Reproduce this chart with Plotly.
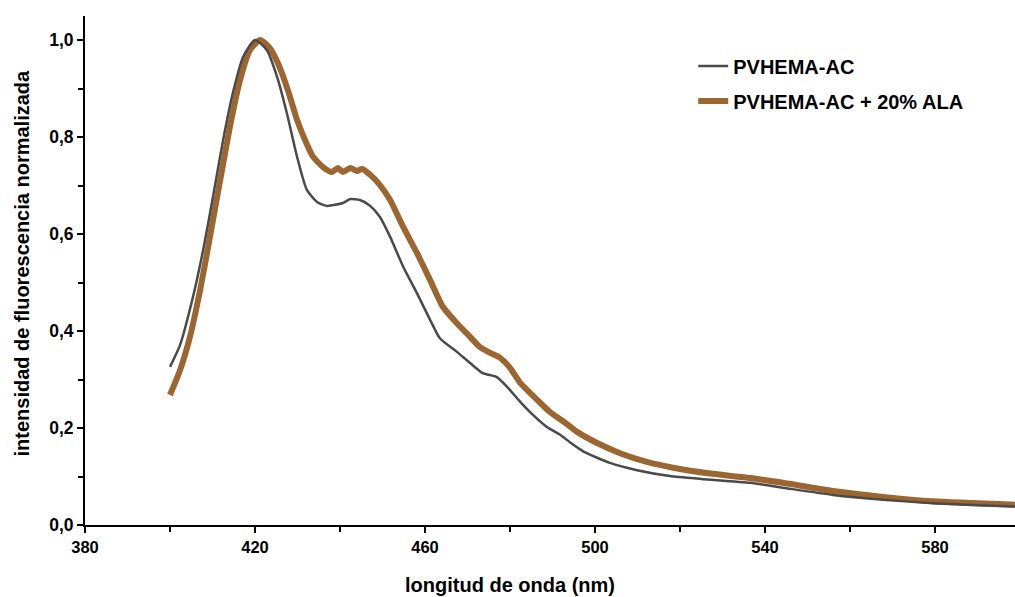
import plotly.graph_objects as go

# PVHEMA-AC (grey)
grey_nm = [400, 402.4, 405.4, 407.8, 410.1, 412.5, 414.8, 417.2, 420.0, 422.8, 425.2,
           427.5, 429.9, 432.2, 434.6, 436.9, 440.7, 442.4, 444.7, 447.1, 449.4, 451.8,
           454.9, 458.1, 461.2, 463.5, 467.5, 470.6, 473.6, 476.9, 479.3, 482.4, 485.4,
           488.7, 491.8, 494.5, 497.2, 503.5, 509.9, 517.6, 525.0, 536.5, 544.2, 556.0,
           567.8, 579.5, 598.8]
grey_val = [0.326, 0.372, 0.470, 0.567, 0.676, 0.794, 0.891, 0.965, 1.000, 0.979, 0.924,
            0.849, 0.759, 0.691, 0.666, 0.658, 0.664, 0.672, 0.670, 0.658, 0.635, 0.594,
            0.532, 0.478, 0.423, 0.385, 0.357, 0.334, 0.313, 0.305, 0.285, 0.254, 0.227,
            0.202, 0.186, 0.168, 0.152, 0.128, 0.113, 0.101, 0.095, 0.087, 0.077, 0.062,
            0.052, 0.045, 0.038]

# PVHEMA-AC + 20% ALA (brown)
ala_nm = [400, 402.4, 404.7, 407.1, 409.4, 411.8, 414.1, 416.5, 418.8, 421.2, 423.5,
          425.5, 427.8, 429.9, 432.2, 433.6, 436.0, 438.1, 439.5, 440.7, 442.4, 444.0,
          445.2, 447.1, 449.4, 451.8, 454.9, 458.1, 461.2, 464.2, 467.5, 470.6, 472.9,
          475.3, 477.6, 480.0, 482.4, 486.4, 489.4, 492.5, 495.8, 500.5, 505.9, 512.2,
          518.4, 527.1, 536.5, 544.2, 556.0, 567.8, 579.5, 598.8]
ala_val = [0.268, 0.320, 0.388, 0.485, 0.594, 0.711, 0.821, 0.918, 0.979, 1.000, 0.983,
           0.950, 0.895, 0.835, 0.785, 0.760, 0.738, 0.728, 0.736, 0.728, 0.736, 0.730,
           0.734, 0.722, 0.701, 0.670, 0.614, 0.561, 0.505, 0.450, 0.416, 0.388, 0.367,
           0.355, 0.345, 0.324, 0.293, 0.258, 0.233, 0.214, 0.192, 0.169, 0.148, 0.130,
           0.118, 0.106, 0.097, 0.087, 0.070, 0.058, 0.049, 0.042]

x_ticks = [380, 420, 460, 500, 540, 580]
y_ticks = [0.0, 0.2, 0.4, 0.6, 0.8, 1.0]

FONT = "Liberation Sans, Arial, sans-serif"
GREY = "#4a4a4a"
BROWN = "#9c6631"

fig = go.Figure()
fig.add_trace(go.Scatter(
    x=ala_nm, y=ala_val, mode="lines", name="PVHEMA-AC + 20% ALA",
    line=dict(color=BROWN, width=6, shape="spline", smoothing=0.6),
    legendrank=2, legendgroup="b"))
fig.add_trace(go.Scatter(
    x=grey_nm, y=grey_val, mode="lines", name="PVHEMA-AC",
    line=dict(color=GREY, width=2.5, shape="spline", smoothing=0.6),
    legendrank=1, legendgroup="a"))

fig.update_layout(
    width=1015, height=597,
    margin=dict(l=85, r=0, t=16, b=72),
    paper_bgcolor="white", plot_bgcolor="white",
    separators=",.",
    font=dict(family=FONT, color="black"),
    showlegend=True,
    legend=dict(x=0.654, y=0.94, xanchor="left", yanchor="top",
                bgcolor="rgba(0,0,0,0)", tracegroupgap=6,
                font=dict(family=FONT, size=20, weight="bold", color="black")),
    xaxis=dict(range=[380, 598.82], tickvals=x_ticks, ticks="outside", ticklen=6,
               tickwidth=2, tickcolor="black", showline=True, linecolor="black",
               linewidth=2, showgrid=False, zeroline=False,
               tickfont=dict(family=FONT, size=16.5, weight="bold"),
               minor=dict(dtick=20, tick0=380, ticks="outside", ticklen=5,
                          tickwidth=2, tickcolor="black", showgrid=False)),
    yaxis=dict(range=[0, 1.0495], tickvals=y_ticks, tickformat=".1f", ticks="outside",
               ticklen=6, tickwidth=2, tickcolor="black", showline=True,
               linecolor="black", linewidth=2, showgrid=False, zeroline=False,
               tickfont=dict(family=FONT, size=17.5, weight="bold"),
               minor=dict(dtick=0.1, tick0=0, ticks="outside", ticklen=5,
                          tickwidth=2, tickcolor="black", showgrid=False)),
    annotations=[
        dict(text="longitud de onda (nm)", xref="paper", yref="paper",
             x=(510 - 85) / 930, y=(525 - 585) / 509, xanchor="center",
             yanchor="middle", showarrow=False,
             font=dict(family=FONT, size=20, weight="bold", color="black")),
        dict(text="intensidad de fluorescencia normalizada", xref="paper",
             yref="paper", x=(21 - 85) / 930, y=(525 - 263.5) / 509,
             xanchor="center", yanchor="middle", textangle=-90, showarrow=False,
             font=dict(family=FONT, size=20, weight="bold", color="black")),
    ],
)

fig.write_html("out.html")
